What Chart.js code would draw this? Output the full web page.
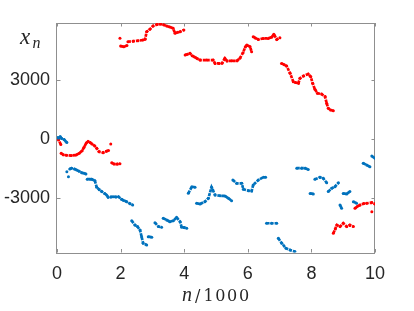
<!DOCTYPE html>
<html><head><meta charset="utf-8">
<script src="https://cdn.jsdelivr.net/npm/chart.js@4/dist/chart.umd.min.js"></script>
<style>html,body{margin:0;padding:0;background:#fff}#wrap{width:414px;height:311px;position:relative}</style>
</head><body><div id="wrap"><canvas id="c" width="414" height="311"></canvas></div>
<script>
// ---- data; null separates disconnected clusters ----
const xTicks = [0, 2, 4, 6, 8, 10];
const yTicks = [-3000, 0, 3000];
const xTitle = ['n', '/1000'];
const yTitle = ['x', 'n'];

const redX = [0.00,0.05,0.12,null,
  0.13,0.20,0.30,0.45,0.60,0.70,0.79,0.85,0.92,0.98,1.04,1.10,1.19,1.25,1.32,1.45,1.55,1.62,null,
  1.69,null,
  1.72,1.80,1.90,1.98,null,
  1.98,null,
  2.00,2.10,2.20,null,2.23,2.40,2.55,2.70,2.77,2.82,2.92,3.02,3.15,3.24,3.35,3.45,3.55,3.65,3.71,3.80,3.87,3.99,null,
  4.03,4.10,4.18,4.25,4.34,4.42,4.50,4.70,4.91,4.97,5.10,5.19,5.28,5.35,5.50,5.66,5.75,5.85,5.92,5.97,6.07,6.12,null,
  6.17,6.25,6.33,6.49,6.64,6.75,6.82,6.91,7.01,null,
  7.06,7.15,7.22,7.33,7.43,7.50,7.59,7.64,7.75,7.90,7.98,8.04,8.11,8.19,8.32,8.43,8.48,8.53,8.60,8.69,null,
  8.69,8.75,8.80,8.90,9.00,9.11,9.21,9.32,null,
  9.37,9.45,9.53,9.65,9.74,9.90,10.00,null,
  9.90];
const redY = [50,-20,-250,null,
  -700,-780,-800,-820,-790,-700,-570,-400,-180,-100,-150,-230,-330,-450,-620,-670,-600,-560,null,
  -230,null,
  -1180,-1250,-1250,-1230,null,
  5145,null,
  4750,4720,4780,null,4970,5000,5020,5060,5100,5480,5600,5770,5850,5870,5830,5770,5720,5650,5400,5450,5480,5570,null,
  4300,4330,4380,4260,4180,4100,4040,4040,4040,3870,3870,3880,4130,3990,4000,4000,4130,4410,4700,4800,4720,4460,null,
  5230,5150,5090,5140,5140,5200,5350,5090,5175,null,
  3870,3800,3740,3365,2940,2900,2860,3110,3230,3330,3190,2860,2550,2350,2310,2180,1840,1590,1500,1460,null,
  -4770,-4550,-4350,-4430,-4260,-4430,-4350,-4430,null,
  -3500,-3400,-3330,-3260,-3240,-3210,-3280,null,
  -3670];

const blueX = [0.00,0.05,0.10,0.15,0.22,0.28,0.31,null,
  0.31,null,0.36,null,
  0.40,0.46,0.55,0.62,0.70,0.78,0.85,0.91,null,0.95,1.05,1.09,1.19,1.25,1.33,1.41,1.50,1.56,1.61,1.70,1.77,1.85,1.93,2.03,2.10,2.19,2.30,2.38,null,
  2.35,2.45,2.53,2.61,2.66,2.71,2.82,null,2.87,2.98,null,
  3.08,3.19,3.29,null,3.34,3.45,3.55,3.66,3.76,3.87,3.92,4.00,4.08,null,
  4.13,4.24,4.34,null,
  4.39,4.50,4.65,4.76,4.86,4.90,4.97,5.13,5.28,5.39,5.49,null,
  5.53,5.65,5.81,5.86,6.02,6.12,6.17,6.33,6.49,6.56,null,
  6.59,6.75,6.91,null,
  6.96,7.07,7.20,7.33,7.48,null,
  7.54,7.69,7.80,7.90,null,
  7.96,8.06,null,
  8.11,8.27,8.37,8.48,null,8.53,8.64,8.74,8.85,null,
  8.90,8.95,null,9.00,9.11,9.21,null,9.32,9.42,null,
  9.63,9.74,9.84,null,9.90,10.00];
const blueY = [100,80,150,50,0,-100,-150,null,
  -1640,null,-1890,null,
  -1500,-1460,-1500,-1550,-1620,-1690,-1720,-1750,null,-2020,-2020,-2020,-2090,-2430,-2550,-2650,-2750,-2820,-2940,-2920,-2910,-2920,-2910,-3040,-3100,-3160,-3270,-3330,null,
  -4130,-4350,-4430,-4600,-4940,-5280,-5360,null,-4940,-4970,null,
  -4230,-4430,-4460,null,-4010,-4090,-4180,-4130,-3960,-4180,-4460,-4480,-4510,null,
  -2735,-2400,-2430,null,
  -3240,-3280,-3160,-2990,-2430,-2570,-2820,-2860,-2870,-2990,-3110,null,
  -2060,-2230,-2230,-2530,-2600,-2620,-2310,-2060,-1920,-1920,null,
  -4260,-4260,-4260,null,
  -5020,-5280,-5530,-5620,-5700,null,
  -1460,-1460,-1460,-1520,null,
  -2740,-2770,null,
  -2020,-1920,-1970,-2200,null,-2650,-2480,-2400,-2200,null,
  -3330,-3500,null,-2740,-2770,-2650,null,-3160,-3240,null,
  -1210,-1300,-1380,null,-840,-960];

function toPoints(xs, ys) {
  const out = [];
  let last = 0;
  for (let i = 0; i < xs.length; i++) {
    if (xs[i] === null || ys[i] === null) { out.push({x: last, y: null}); }
    else { out.push({x: xs[i], y: ys[i]}); last = xs[i]; }
  }
  return out;
}

const AXIS = '#8f8f8f';
const boxPlugin = {
  id: 'box',
  beforeDatasetsDraw(chart) {
    const {ctx, chartArea: a, scales} = chart;
    ctx.save();
    ctx.strokeStyle = AXIS; ctx.lineWidth = 1;
    ctx.strokeRect(Math.round(a.left) - 0.5, Math.round(a.top) + 0.5, Math.round(a.right - a.left), Math.round(a.bottom - a.top));
    ctx.beginPath();
    const L = 3.5;
    xTicks.forEach(v => {
      const px = Math.round(scales.x.getPixelForValue(v)) + 0.5;
      ctx.moveTo(px, a.bottom); ctx.lineTo(px, a.bottom - L);
      ctx.moveTo(px, a.top); ctx.lineTo(px, a.top + L);
    });
    yTicks.forEach(v => {
      const py = Math.round(scales.y.getPixelForValue(v)) + 0.5;
      ctx.moveTo(a.left, py); ctx.lineTo(a.left + L, py);
      ctx.moveTo(a.right, py); ctx.lineTo(a.right - L, py);
    });
    ctx.stroke();
    ctx.restore();
  },
  afterDraw(chart) {
    const ctx = chart.ctx;
    ctx.save();
    ctx.fillStyle = '#262626';
    ctx.textBaseline = 'alphabetic';
    // y title x_n
    ctx.font = 'italic 23px "Liberation Serif"';
    ctx.fillText(yTitle[0], 20, 44);
    ctx.font = 'italic 16px "Liberation Serif"';
    ctx.fillText(yTitle[1], 32.5, 47.5);
    // x title n/1000
    ctx.font = 'italic 20px "Liberation Serif"';
    ctx.fillText(xTitle[0], 182, 300.5);
    ctx.font = '16px "DejaVu Serif"';
    let px = 195;
    for (const ch of xTitle[1]) {
      ctx.fillText(ch, px, 300.5);
      px += (ch === '/' ? 8.5 : 11.8);
    }
    ctx.restore();
  }
};

new Chart(document.getElementById('c'), {
  type: 'scatter',
  data: { datasets: [
    { data: toPoints(blueX, blueY), borderColor: '#0072BD', backgroundColor: '#0072BD', showLine: true, spanGaps: false,
      borderWidth: 2.7, borderDash: [3, 1], pointRadius: 1.5, pointBorderWidth: 0, pointHoverRadius: 0 },
    { data: toPoints(redX, redY), borderColor: '#FF0000', backgroundColor: '#FF0000', showLine: true, spanGaps: false,
      borderWidth: 2.7, borderDash: [3, 1], pointRadius: 1.5, pointBorderWidth: 0, pointHoverRadius: 0 }
  ]},
  options: {
    responsive: false, animation: false, events: [],
    layout: { padding: { top: 23, right: 39, left: 0, bottom: 0 } },
    plugins: { legend: { display: false }, tooltip: { enabled: false } },
    scales: {
      x: { type: 'linear', min: 0, max: 10,
        afterBuildTicks: s => { s.ticks = xTicks.map(v => ({ value: v })); },
        afterFit: s => { s.height = 58.5; },
        grid: { display: false, drawTicks: false }, border: { display: false },
        ticks: { font: { family: 'Liberation Sans', size: 18 }, color: '#262626', padding: 11, maxRotation: 0,
          callback: v => String(v) } },
      y: { type: 'linear', min: -5746, max: 5923,
        afterBuildTicks: s => { s.ticks = yTicks.map(v => ({ value: v })); },
        afterFit: s => { s.width = 57; },
        grid: { display: false, drawTicks: false }, border: { display: false },
        ticks: { font: { family: 'Liberation Sans', size: 18 }, color: '#262626', padding: 7,
          callback: v => String(v) } }
    }
  },
  plugins: [boxPlugin]
});
</script></body></html>
